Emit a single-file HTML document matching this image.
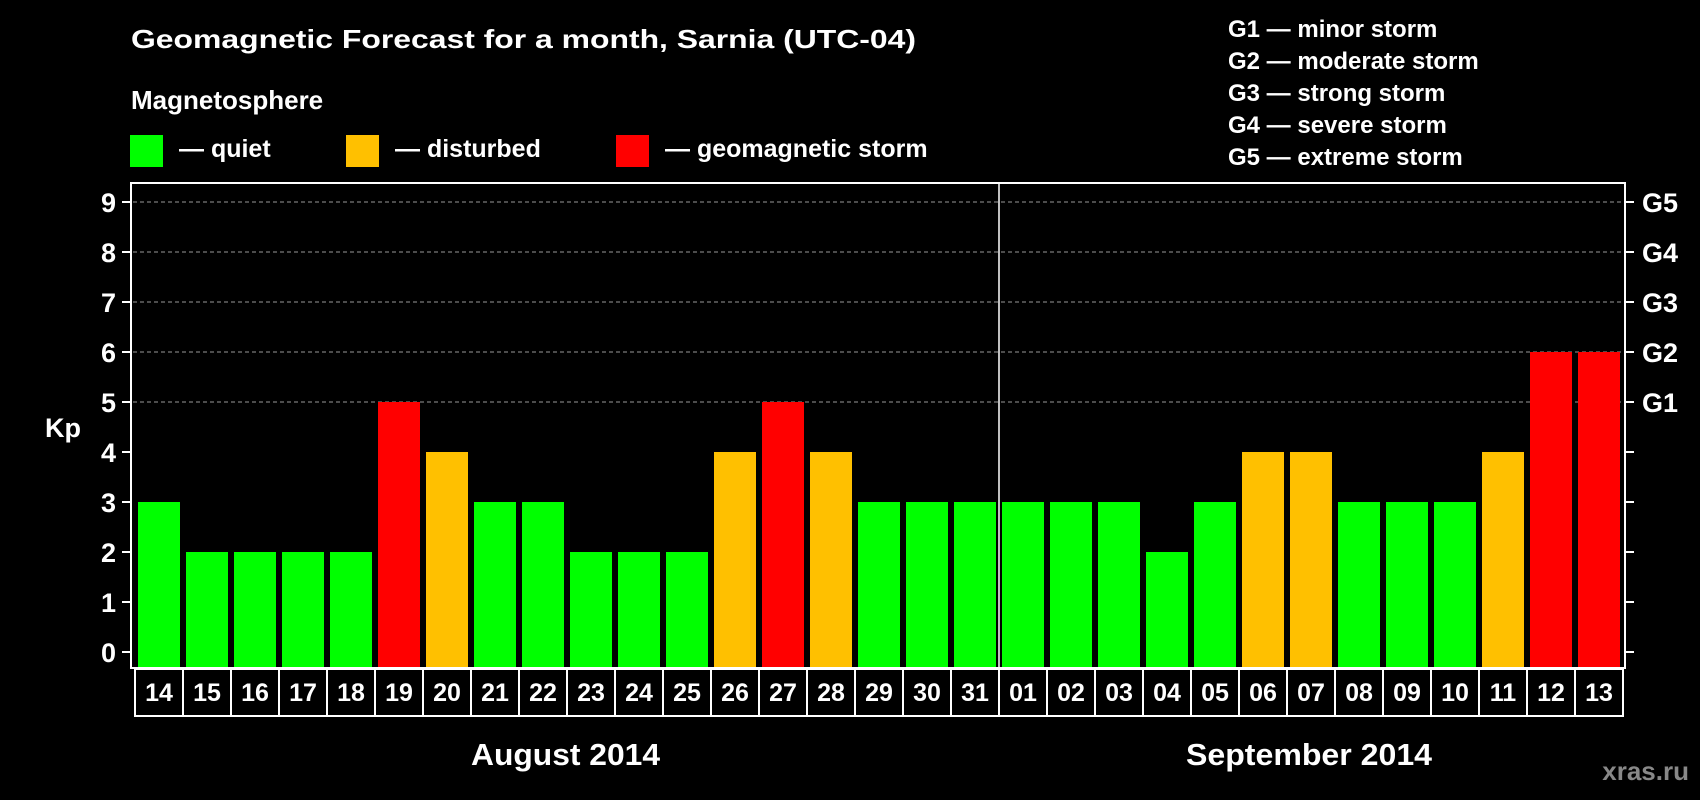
<!DOCTYPE html>
<html><head><meta charset="utf-8"><style>
html,body{margin:0;padding:0;background:#000;}
svg{display:block;font-family:"Liberation Sans",Arial,sans-serif;font-weight:bold;}
</style></head><body>
<svg id="c" width="1700" height="800" viewBox="0 0 1700 800">
<text x="131" y="48" font-size="26" fill="#fff" textLength="785" lengthAdjust="spacingAndGlyphs">Geomagnetic Forecast for a month, Sarnia (UTC-04)</text>
<text x="131" y="109" font-size="26" fill="#fff">Magnetosphere</text>
<g><rect x="130" y="135" width="33" height="32" fill="#00ff00"/><text x="179" y="157" font-size="25" fill="#fff">— quiet</text></g>
<g><rect x="346" y="135" width="33" height="32" fill="#ffc000"/><text x="395" y="157" font-size="25" fill="#fff">— disturbed</text></g>
<g><rect x="616" y="135" width="33" height="32" fill="#ff0000"/><text x="665" y="157" font-size="25" fill="#fff">— geomagnetic storm</text></g>
<g font-size="24" fill="#fff">
<text x="1228" y="37">G1 — minor storm</text>
<text x="1228" y="69">G2 — moderate storm</text>
<text x="1228" y="101">G3 — strong storm</text>
<text x="1228" y="133">G4 — severe storm</text>
<text x="1228" y="165">G5 — extreme storm</text>
</g>
<text x="63" y="437" font-size="27" fill="#fff" text-anchor="middle">Kp</text>
<text x="471" y="765" font-size="31" fill="#fff" textLength="189" lengthAdjust="spacingAndGlyphs">August 2014</text>
<text x="1186" y="765" font-size="31" fill="#fff" textLength="246" lengthAdjust="spacingAndGlyphs">September 2014</text>
<text x="1689" y="780" font-size="26" fill="#888" text-anchor="end">xras.ru</text>
</svg>
<script>
const days = ["14","15","16","17","18","19","20","21","22","23","24","25","26","27","28","29","30","31","01","02","03","04","05","06","07","08","09","10","11","12","13"];
const kp = [3,2,2,2,2,5,4,3,3,2,2,2,4,5,4,3,3,3,3,3,3,2,3,4,4,3,3,3,4,6,6];
const yTicks = [0,1,2,3,4,5,6,7,8,9];
const gLabels = ["G1","G2","G3","G4","G5"];
const gLevels = [5,6,7,8,9];

(function(){
const svg = document.getElementById('c');
const NS = 'http://www.w3.org/2000/svg';
const plotLeft = 131, plotRight = 1625, plotTop = 183, plotBottom = 668;
const y0 = 652, unit = 50;
const pitch = 48, barX0 = 138, barW = 42;
const yS = v => y0 - v * unit;
const xS = i => barX0 + i * pitch;
function mk(tag, attrs){const e=document.createElementNS(NS,tag);for(const k in attrs)e.setAttribute(k,attrs[k]);svg.appendChild(e);return e;}
function color(v){return v>=5?'#ff0000':(v>=4?'#ffc000':'#00ff00');}

gLevels.forEach(v=>{
  const l=mk('line',{x1:plotLeft+2,x2:plotRight-2,y1:yS(v),y2:yS(v),stroke:'#999','stroke-width':1,'stroke-dasharray':'4,3'});
  
  
});
kp.forEach((v,i)=>{
  const r=mk('rect',{x:xS(i),y:yS(v),width:barW,height:plotBottom-yS(v)-1,fill:color(v)});
  
  
});
const f=mk('rect',{x:plotLeft,y:plotTop,width:plotRight-plotLeft,height:plotBottom-plotTop,fill:'none',stroke:'#fff','stroke-width':2});


const sepIdx = days.indexOf("01");
const dv=mk('line',{x1:xS(sepIdx)-3,x2:xS(sepIdx)-3,y1:plotTop,y2:plotBottom,stroke:'#fff','stroke-width':1.5});


yTicks.forEach(v=>{
  mk('line',{x1:plotLeft-9,x2:plotLeft,y1:yS(v),y2:yS(v),stroke:'#fff','stroke-width':2});
  mk('line',{x1:plotRight,x2:plotRight+9,y1:yS(v),y2:yS(v),stroke:'#fff','stroke-width':2});
  const t=mk('text',{x:116,y:yS(v)+10,'font-size':27,fill:'#fff','text-anchor':'end'});
  t.textContent=v;
  
  
});
gLabels.forEach((g,i)=>{
  const t=mk('text',{x:1642,y:yS(gLevels[i])+10,'font-size':27,fill:'#fff'});
  t.textContent=g;
  
  
});
days.forEach((d,i)=>{
  const bx=135+i*pitch;
  const r=mk('rect',{x:bx,y:669,width:pitch,height:47,fill:'none',stroke:'#fff','stroke-width':2});
  
  
  const t=mk('text',{x:bx+pitch/2,y:701,'font-size':25,fill:'#fff','text-anchor':'middle'});
  t.textContent=d;
  
  
});
})();
</script>
</body></html>
